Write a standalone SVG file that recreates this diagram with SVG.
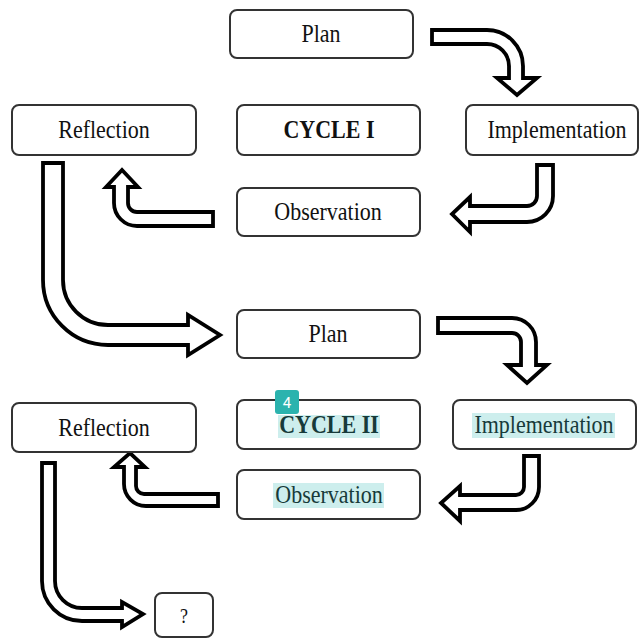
<svg xmlns="http://www.w3.org/2000/svg" width="639" height="639" viewBox="0 0 639 639">
<style>
.box{fill:#fff;stroke:#333;stroke-width:2}
.t{font-family:"Liberation Serif","Times New Roman",serif;font-size:22px;fill:#111;text-anchor:middle}
.b{font-weight:bold}
.hl{fill:#cdeeed}
.ht{fill:#173a3a}
.arr{fill:#fff;stroke:#000;stroke-width:3.8;stroke-linejoin:miter}
</style>
<rect width="639" height="639" fill="#fff"/>
<g id="connectors">
<path class="arr" d="M432,30 H487 A36 36 0 0 1 523 66 V78 H537 L517 95 L497 78 H509 V66 A22 22 0 0 0 487 44 H432 Z"/>
<path class="arr" d="M537,165 H553 V196 A26 26 0 0 1 527 222 H470 V232 L452 214 L470 197 V206 H527 A10 10 0 0 0 537 196 Z"/>
<path class="arr" d="M213,212 H137 A9 9 0 0 1 128 203 V187 H138 L122 170 L106 187 H114 V203 A23 23 0 0 0 137 226 H213 Z"/>
<path class="arr" d="M43,163 V280 A65 65 0 0 0 108 345 H188 V355 L220 335 L188 315 V325 H108 A45 45 0 0 1 63 280 V163 Z"/>
<path class="arr" d="M438,318 H512 A24 24 0 0 1 536 342 V365 H547 L527 383 L507 365 H521 V342 A9 9 0 0 0 512 333 H438 Z"/>
<path class="arr" d="M524,456 H539 V487 A23 23 0 0 1 516 510 H460 V521 L441 503 L460 486 V495 H516 A8 8 0 0 0 524 487 Z"/>
<path class="arr" d="M218,494 H144 A8 8 0 0 1 136 486 V467 H145 L130 453 L114 467 H124 V484 A22 22 0 0 0 146 506 H218 Z"/>
<path class="arr" d="M42,463 V581 A40 40 0 0 0 82 621 H122 V627 L143 614 L122 602 V608 H82 A27 27 0 0 1 55 581 V463 Z"/>
</g>
<g id="plan1"><rect class="box" x="230" y="10" width="183" height="48" rx="7"/><text class="t" transform="translate(321,42) scale(1,1.15)">Plan</text></g>
<g id="reflection1"><rect class="box" x="12" y="105" width="184" height="50" rx="7"/><text class="t" transform="translate(104,138) scale(1,1.15)">Reflection</text></g>
<g id="cycle1"><rect class="box" x="237" y="105" width="183" height="50" rx="7"/><text class="t b" transform="translate(329,138) scale(1,1.15)">CYCLE I</text></g>
<g id="implementation1"><rect class="box" x="466" y="105" width="172" height="50" rx="7"/><text class="t" transform="translate(557,138) scale(1,1.15)">Implementation</text></g>
<g id="observation1"><rect class="box" x="237" y="188" width="183" height="48" rx="7"/><text class="t" transform="translate(328,220) scale(1,1.15)">Observation</text></g>
<g id="plan2"><rect class="box" x="237" y="310" width="183" height="48" rx="7"/><text class="t" transform="translate(328,342) scale(1,1.15)">Plan</text></g>
<g id="reflection2"><rect class="box" x="12" y="403" width="184" height="49" rx="7"/><text class="t" transform="translate(104,436) scale(1,1.15)">Reflection</text></g>
<g id="cycle2"><rect class="box" x="237" y="400" width="183" height="49" rx="7"/><rect class="hl" x="278" y="415" width="102" height="23"/><text class="t b ht" transform="translate(329,433) scale(1,1.15)">CYCLE II</text></g>
<g id="implementation2"><rect class="box" x="453" y="400" width="183" height="49" rx="7"/><rect class="hl" x="472" y="413" width="143" height="25"/><text class="t ht" transform="translate(544,433) scale(1,1.15)">Implementation</text></g>
<g id="observation2"><rect class="box" x="237" y="470" width="183" height="49" rx="7"/><rect class="hl" x="273" y="483" width="111" height="25"/><text class="t ht" transform="translate(329,503) scale(1,1.15)">Observation</text></g>
<g id="question"><rect class="box" x="155" y="593" width="58" height="44" rx="7"/><text class="t" transform="translate(184,623) scale(1,1.15)" style="font-size:18px">?</text></g>
<g id="badge"><rect x="275" y="390" width="24" height="24" rx="3" fill="#2bb3ae"/><text x="287" y="408" font-family="Roboto, 'Liberation Sans', sans-serif" font-size="15" fill="#fff" text-anchor="middle">4</text></g>
</svg>
